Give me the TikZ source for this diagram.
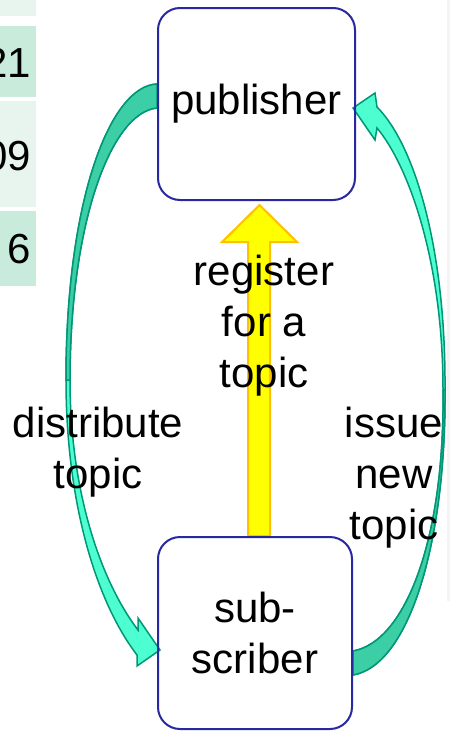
\documentclass[tikz,border=0pt]{standalone}
\usepackage{fontspec}
\setmainfont{Liberation Sans}
\usetikzlibrary{backgrounds}

\definecolor{boxblue}{RGB}{40,40,160}
\definecolor{aqualight}{RGB}{77,255,208}
\definecolor{aquadark}{RGB}{60,207,165}
\definecolor{aquaedge}{RGB}{0,150,120}
\definecolor{regfill}{RGB}{255,255,0}
\definecolor{regedge}{RGB}{255,192,0}
\definecolor{celldark}{RGB}{201,235,219}
\definecolor{celllight}{RGB}{232,245,238}
\definecolor{pagegrey}{RGB}{244,244,244}

\begin{document}
\begin{tikzpicture}[x=1pt,y=-1pt,
  font=\fontsize{42}{51}\selectfont,
  role/.style={draw=boxblue,line width=2pt,rounded corners=22pt,align=center,inner sep=0pt},
  note/.style={align=center,inner sep=0pt,anchor=north},
  num/.style={anchor=base east,inner sep=0pt},
  bend arrow/.style={draw=aquaedge,line width=1.5pt,line join=miter},
  reg arrow/.style={fill=regfill,draw=regedge,line width=2pt,line join=miter}]
  \useasboundingbox (0,0) rectangle (450,731);

  % the two parties
  \node[role,minimum width=197pt,minimum height=192pt] (publisher) at (256.5,104) {publisher};
  \node[role,minimum width=194pt,minimum height=192pt] (subscriber) at (255,633) {sub-\\scriber};

  % numbers of the table cut off on the left
  \node[num] (n21) at (31,77) {21};
  \node[num] (n09) at (31,170) {09};
  \node[num] (n6) at (31,263) {6};

  \begin{scope}[on background layer]
    \fill[white] (0,0) rectangle (450,731);
    \fill[pagegrey] (447,0) rectangle (450,601);
    \fill[celllight] (0,0) rectangle (36,16);
    \fill[celldark] (0,26) rectangle (36,97);
    \fill[celllight] (0,101) rectangle (36,207);
    \fill[celldark] (0,211) rectangle (36,286);

    % register for a topic
    \draw[reg arrow] (248,0 |- subscriber.north) -- (248,242) -- (222,242) -- (259.5,205)
      -- (297,242) -- (270,242) -- (270,0 |- subscriber.north) -- cycle;

    % distribute topic: publisher -> subscriber, down the left
    \draw[bend arrow,fill=aqualight] (publisher.west |- 0,84)
      .. controls (110,86) and (66,200) .. (66,380)
      .. controls (66,500) and (95,600) .. (137,655) -- (137,666) -- (160,650)
      -- (138,618) -- (138,630)
      .. controls (100,580) and (70,490) .. (70,380)
      .. controls (70,220) and (112,112) .. (publisher.west |- 0,108) -- cycle;
    \draw[bend arrow,fill=aquadark] (publisher.west |- 0,84)
      .. controls (110,86) and (66,200) .. (66,380) -- (70,380)
      .. controls (70,220) and (112,112) .. (publisher.west |- 0,108) -- cycle;

    % issue new topic: subscriber -> publisher, up the right
    \draw[bend arrow,fill=aqualight] (subscriber.east |- 0,651)
      .. controls (405,642) and (445,540) .. (443,390)
      .. controls (443,260) and (408,165) .. (377,128) -- (375,140) -- (353,108)
      -- (375,93) -- (377,107)
      .. controls (415,145) and (446,250) .. (445,390)
      .. controls (446,540) and (410,665) .. (subscriber.east |- 0,675) -- cycle;
    \draw[bend arrow,fill=aquadark] (subscriber.east |- 0,651)
      .. controls (405,642) and (445,540) .. (443,390) -- (445,390)
      .. controls (446,540) and (410,665) .. (subscriber.east |- 0,675) -- cycle;
  \end{scope}

  \node[note] (register) at (264,255) {register\\for a\\topic};
  \node[note] (distribute) at (98,407) {distribute\\topic};
  \node[note] (issue) at (394,407) {issue\\new\\topic};
\end{tikzpicture}
\end{document}
